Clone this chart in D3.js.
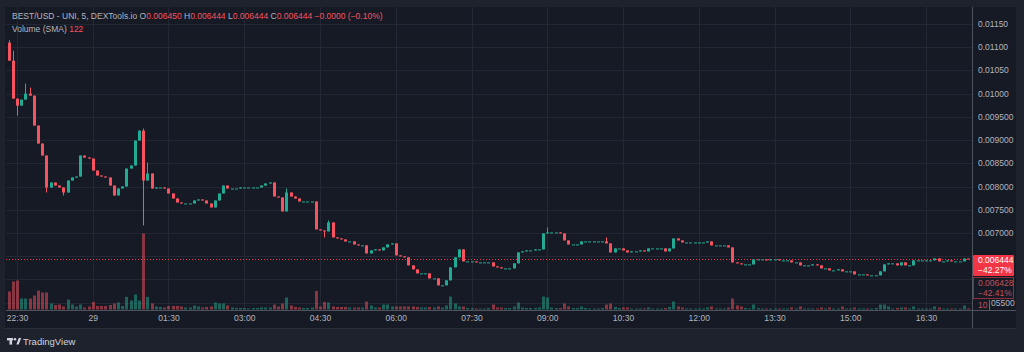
<!DOCTYPE html>
<html>
<head>
<meta charset="utf-8">
<script src="https://cdn.jsdelivr.net/npm/d3@7"></script>
<style>
  html, body { margin: 0; padding: 0; background: #1e222d; }
  svg { display: block; font-family: "Liberation Sans", Arial, sans-serif; }
</style>
</head>
<body>
<div id="chart"></div>
<script>
// ---- data (5 min candles, BEST/USD) ----
const startTime = "2023-11-28T22:20:00Z";
const firstOpen = 0.011097;

const closes = [
  0.010710,0.009893,0.009743,0.009872,0.010000,0.009958,0.009313,0.008926,0.008668,0.007980,
  0.008087,0.008022,0.007980,0.007872,0.008130,0.008195,0.008216,0.008668,0.008625,0.008603,
  0.008345,0.008238,0.008216,0.008195,0.008022,0.007808,0.007958,0.008001,0.008388,0.008453,
  0.008990,0.009205,0.008130,0.008281,0.007958,0.007980,0.007980,0.007958,0.007851,0.007743,
  0.007657,0.007636,0.007636,0.007636,0.007700,0.007722,0.007700,0.007636,0.007550,0.007700,
  0.007851,0.008022,0.007958,0.007958,0.007958,0.007980,0.007980,0.007980,0.007980,0.007980,
  0.008022,0.008066,0.008087,0.007786,0.007765,0.007464,0.007872,0.007786,0.007743,0.007679,
  0.007679,0.007679,0.007679,0.007077,0.007055,0.007034,0.007227,0.006905,0.006883,0.006862,
  0.006819,0.006819,0.006754,0.006733,0.006733,0.006561,0.006625,0.006647,0.006625,0.006690,
  0.006754,0.006776,0.006518,0.006496,0.006475,0.006303,0.006217,0.006131,0.006131,0.006131,
  0.006023,0.006023,0.005873,0.005873,0.005980,0.006260,0.006475,0.006647,0.006389,0.006389,
  0.006389,0.006367,0.006367,0.006367,0.006367,0.006281,0.006260,0.006238,0.006238,0.006238,
  0.006346,0.006582,0.006604,0.006625,0.006625,0.006647,0.006647,0.006991,0.007012,0.007012,
  0.007012,0.006991,0.006840,0.006754,0.006754,0.006754,0.006819,0.006819,0.006819,0.006819,
  0.006819,0.006819,0.006776,0.006582,0.006668,0.006668,0.006625,0.006582,0.006604,0.006604,
  0.006625,0.006604,0.006668,0.006668,0.006668,0.006668,0.006604,0.006668,0.006883,0.006840,
  0.006797,0.006797,0.006797,0.006797,0.006797,0.006797,0.006819,0.006733,0.006733,0.006733,
  0.006733,0.006690,0.006367,0.006346,0.006324,0.006324,0.006324,0.006432,0.006432,0.006432,
  0.006410,0.006432,0.006432,0.006410,0.006410,0.006410,0.006367,0.006367,0.006303,0.006303,
  0.006303,0.006324,0.006303,0.006238,0.006238,0.006195,0.006195,0.006217,0.006174,0.006174,
  0.006174,0.006109,0.006109,0.006109,0.006088,0.006088,0.006088,0.006174,0.006324,0.006346,
  0.006346,0.006303,0.006367,0.006303,0.006303,0.006410,0.006410,0.006410,0.006410,0.006410,
  0.006453,0.006389,0.006389,0.006410,0.006389,0.006389,0.006389,0.006450,0.006444
];

const volumes = [
  1800,2800,2900,1100,1100,1100,1400,1900,1700,1700,
  600,450,500,300,1000,500,300,500,200,300,
  760,350,350,350,450,600,700,350,1260,900,
  1500,900,7600,1260,600,300,250,200,350,350,
  350,300,200,200,400,300,200,250,300,700,
  600,600,400,200,150,150,150,100,150,150,
  200,200,200,500,300,600,1200,400,250,200,
  150,150,200,1860,300,760,700,300,250,250,
  250,200,200,200,200,800,400,200,200,500,
  500,300,300,300,300,300,300,250,200,200,
  250,200,300,200,400,1300,600,300,300,150,
  150,100,100,100,150,500,200,200,150,150,
  300,700,200,150,150,150,200,1300,1200,200,
  150,150,600,300,150,150,300,150,100,100,
  100,150,500,600,250,150,200,200,100,100,
  100,100,200,100,100,100,150,250,800,300,
  200,100,100,100,100,100,200,300,100,100,
  100,200,1100,400,300,150,100,500,150,100,
  100,100,100,100,100,100,200,100,300,100,
  100,100,100,200,100,200,100,100,300,100,
  100,200,100,100,100,100,150,500,500,300,
  100,150,200,200,100,300,100,100,100,100,
  300,200,100,100,100,100,100,400,122
];

// [candle index, price] for wicks that reach past the body
const wickHighs = [[0,0.01115],[1,0.010925],[4,0.010216],[5,0.01013],[32,0.009248],[33,0.008517],
                   [66,0.007958],[76,0.00727],[128,0.00712],[142,0.006905]];
const wickLows = [[2,0.009528],[9,0.007872],[13,0.007808],[32,0.007163],[75,0.006905]];

const priceTicks = [0.0055,0.006,0.0065,0.007,0.0075,0.008,0.0085,0.009,0.0095,0.01,0.0105,0.011,0.0115];
const hiddenTicks = [0.006, 0.0065]; // covered by the price labels on the axis
const timeTickLabels = ["22:30","29","01:30","03:00","04:30","06:00","07:30","09:00","10:30","12:00","13:30","15:00","16:30"];

const lastPrice = 0.006444, lastChange = "\u221242.27%";
const prevPrice = 0.006428, prevChange = "\u221242.41%";
const volumeLabel = "10";

// ---- layout ----
const W = 1024, H = 352;
const plotL = 6, plotR = 972, plotT = 7, plotB = 310, panelR = 1016, panelB = 328;
const upCol = "#22ab94", downCol = "#f7525f";
const textCol = "#b2b5be";

const svg = d3.select("#chart").append("svg").attr("width", W).attr("height", H);
svg.append("rect").attr("width", W).attr("height", H).attr("fill", "#1e222d");
svg.append("rect").attr("x", plotL - 1).attr("y", plotT).attr("width", panelR - plotL + 1)
  .attr("height", panelB - plotT).attr("fill", "#161a25");

const t0 = new Date(startTime);
const times = closes.map((c, i) => new Date(+t0 + i * 300000));
const candles = closes.map((c, i) => {
  const o = i === 0 ? firstOpen : closes[i - 1];
  return { t: times[i], o: o, c: c, h: Math.max(o, c), l: Math.min(o, c), v: volumes[i] };
});
wickHighs.forEach(([i, p]) => { candles[i].h = Math.max(candles[i].h, p); });
wickLows.forEach(([i, p]) => { candles[i].l = Math.min(candles[i].l, p); });

const tStart = new Date("2023-11-28T22:30:00Z"), tEnd = new Date("2023-11-29T16:30:00Z");
const x = d3.scaleUtc().domain([tStart, tEnd]).range([17, 926]);
const y = d3.scaleLinear().domain([0.007, 0.0115]).range([233, 24]);
const yVol = d3.scaleLinear().domain([0, d3.max(volumes)]).range([309.5, 233.5]);

// grid
const tickDates = d3.utcMinute.range(tStart, new Date(+tEnd + 60000), 90);
const grid = svg.append("g");
grid.selectAll(".hg").data(priceTicks).enter().append("line")
  .attr("x1", plotL).attr("x2", plotR)
  .attr("y1", d => Math.round(y(d)) + 0.5).attr("y2", d => Math.round(y(d)) + 0.5)
  .attr("stroke", "#232733");
grid.selectAll(".vg").data(tickDates).enter().append("line")
  .attr("x1", d => Math.round(x(d)) + 0.5).attr("x2", d => Math.round(x(d)) + 0.5)
  .attr("y1", plotT).attr("y2", plotB)
  .attr("stroke", "#232733");

// volume
svg.append("g").selectAll("rect").data(candles).enter().append("rect")
  .attr("x", d => Math.round(x(d.t)) - 1)
  .attr("width", 3)
  .attr("y", d => yVol(d.v))
  .attr("height", d => 309.5 - yVol(d.v))
  .attr("fill", d => d.c >= d.o ? upCol : downCol)
  .attr("fill-opacity", 0.5);

// current price dotted line
svg.append("line").attr("x1", plotL).attr("x2", plotR)
  .attr("y1", Math.round(y(lastPrice)) + 0.5).attr("y2", Math.round(y(lastPrice)) + 0.5)
  .attr("stroke", "#f23645").attr("stroke-dasharray", "1,2");

// candles
const cg = svg.append("g").selectAll("g").data(candles).enter().append("g")
  .attr("fill", d => d.c >= d.o ? upCol : downCol)
  .attr("stroke", d => d.c >= d.o ? upCol : downCol);
cg.append("line")
  .attr("x1", d => Math.round(x(d.t)) + 0.5).attr("x2", d => Math.round(x(d.t)) + 0.5)
  .attr("y1", d => y(d.h)).attr("y2", d => y(d.l));
cg.append("rect")
  .attr("stroke", "none")
  .attr("x", d => Math.round(x(d.t)) - 1)
  .attr("width", 3)
  .attr("y", d => Math.min(y(d.o), y(d.c)))
  .attr("height", d => Math.max(1, Math.abs(y(d.o) - y(d.c))));

// axes frame
svg.append("line").attr("x1", plotR + 0.5).attr("x2", plotR + 0.5).attr("y1", plotT).attr("y2", panelB)
  .attr("stroke", "#50535e");
svg.append("line").attr("x1", plotL).attr("x2", panelR).attr("y1", plotB + 0.5).attr("y2", plotB + 0.5)
  .attr("stroke", "#50535e");
svg.append("line").attr("x1", plotL - 1).attr("x2", panelR).attr("y1", panelB + 0.5).attr("y2", panelB + 0.5)
  .attr("stroke", "#2a2e39");

// price axis labels; the lowest one sits behind the volume label, only its tail shows
const fmt = d3.format(".4r");
svg.append("g").selectAll("text").data(priceTicks.filter(d => !hiddenTicks.includes(d))).enter().append("text")
  .attr("x", d => d < 0.006 ? 991 : 978).attr("y", d => y(d)).attr("dy", "0.35em")
  .attr("fill", textCol).attr("font-size", 8.5)
  .text(d => d < 0.006 ? fmt(d).slice(3) : fmt(d));

// time axis
const xAxis = d3.axisBottom(x).tickValues(tickDates).tickSize(0).tickPadding(0)
  .tickFormat((d, i) => timeTickLabels[i]);
const xg = svg.append("g").attr("transform", "translate(0," + plotB + ")").call(xAxis);
xg.select(".domain").remove();
xg.selectAll("text").attr("y", 5).attr("fill", textCol).attr("font-size", 8.5)
  .attr("font-family", "Liberation Sans, Arial, sans-serif");

// last price label
const lp = svg.append("g");
lp.append("rect").attr("x", 973).attr("y", 255).attr("width", 41).attr("height", 21).attr("rx", 1)
  .attr("fill", "#f23645");
lp.append("text").attr("x", 978).attr("y", 263).attr("fill", "#ffffff").attr("font-size", 8.5)
  .text(d3.format(".4r")(lastPrice));
lp.append("text").attr("x", 978).attr("y", 273).attr("fill", "#ffffff").attr("font-size", 8.5)
  .text(lastChange);

const pp = svg.append("g");
pp.append("rect").attr("x", 973.5).attr("y", 277.5).attr("width", 40).attr("height", 21)
  .attr("fill", "#161a25").attr("stroke", "#8c2f3a");
pp.append("text").attr("x", 978).attr("y", 285.5).attr("fill", "#c0505c").attr("font-size", 8.5)
  .text(d3.format(".4r")(prevPrice));
pp.append("text").attr("x", 978).attr("y", 295.5).attr("fill", "#c0505c").attr("font-size", 8.5)
  .text(prevChange);

const vl = svg.append("g");
vl.append("line").attr("x1", 989.5).attr("x2", 989.5).attr("y1", 300).attr("y2", 310)
  .attr("stroke", "#6a6d78");
vl.append("text").attr("x", 978).attr("y", 308).attr("fill", "#c0505c").attr("font-size", 8.5)
  .text(volumeLabel);

// legend
const leg = svg.append("text").attr("x", 12).attr("y", 19).attr("font-size", 8.5).attr("fill", textCol);
leg.append("tspan").text("BEST/USD - UNI, 5, DEXTools.io  ");
const ohlc = [["O", "0.006450"], ["H", "0.006444"], ["L", "0.006444"], ["C", "0.006444"]];
ohlc.forEach(([k, v]) => {
  leg.append("tspan").attr("fill", textCol).text(k);
  leg.append("tspan").attr("fill", downCol).text(v + "  ");
});
leg.append("tspan").attr("fill", downCol).text("\u22120.0000 (\u22120.10%)");

const leg2 = svg.append("text").attr("x", 12).attr("y", 32).attr("font-size", 8.5).attr("fill", textCol);
leg2.append("tspan").text("Volume (SMA)  ");
leg2.append("tspan").attr("fill", downCol).text(volumes[volumes.length - 1]);

// TradingView mark
const tv = svg.append("g").attr("fill", "#d1d4dc");
tv.append("rect").attr("x", 7).attr("y", 338).attr("width", 6).attr("height", 2.4);
tv.append("rect").attr("x", 9.5).attr("y", 338).attr("width", 2.6).attr("height", 6.6);
tv.append("circle").attr("cx", 15).attr("cy", 339.3).attr("r", 1.3);
tv.append("path").attr("d", "M16.3,344.6 L18.8,338 L21.2,338 L18.7,344.6 Z");
tv.append("text").attr("x", 23).attr("y", 344.5).attr("font-size", 9.5).attr("fill", "#d1d4dc")
  .text("TradingView");
</script>
</body>
</html>
